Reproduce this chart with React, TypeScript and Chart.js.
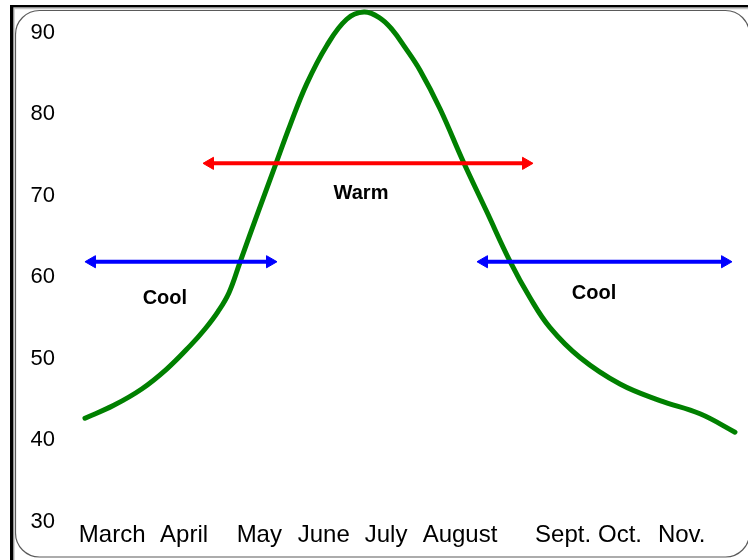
import React, { useEffect, useRef } from "react";
import { Chart, registerables } from "chart.js";

Chart.register(...registerables);

// x axis is a 0–100 season scale; month labels sit at these positions
const monthLabels = ["March", "April", "May", "June", "July", "August", "Sept.", "Oct.", "Nov."];
const monthPos = [7.4, 18.0, 29.1, 38.6, 47.8, 58.7, 73.9, 82.3, 91.4];

const yTicks = [30, 40, 50, 60, 70, 80, 90];

// temperature curve
const curveX = [3.39, 7.57, 11.76, 15.44, 18.88, 21.09, 23.01, 24.63, 26.25, 28.95, 31.56, 33.63, 36.09, 39.04, 41.99, 44.54, 46.9, 48.67, 50.59, 52.8, 55.75, 59.19, 62.64, 66.08, 69.03, 71.98, 76.4, 82.3, 88.2, 94.1, 99.26];
const curveY = [42.72, 44.27, 46.3, 48.74, 51.59, 53.66, 55.79, 58.11, 61.83, 68.05, 73.94, 78.62, 83.7, 88.38, 91.62, 92.5, 91.77, 90.37, 88.17, 85.37, 80.65, 74.15, 68.05, 61.95, 57.48, 53.82, 50.16, 46.91, 44.88, 43.26, 41.01];

// arrows (x start, x end, y level)
const coolLeftX = [4.42, 30.68];
const coolLeftY = 61.9;
const warmX = [21.83, 68.44];
const warmY = 73.96;
const coolRightX = [62.24, 97.79];
const coolRightY = 61.9;

// text labels
const labelText = ["Cool", "Warm", "Cool"];
const labelX = [15.17, 44.1, 78.47];
const labelY = [57.44, 70.24, 58.05];

const FONT = "'Liberation Sans', Arial, Helvetica, sans-serif";

export default function App() {
  const ref = useRef<HTMLCanvasElement | null>(null);

  useEffect(() => {
    document.body.style.margin = "0";
    const canvas = ref.current;
    if (!canvas) return;

    const framePlugin = {
      id: "frame",
      beforeDraw(chart: any) {
        const ctx = chart.ctx;
        ctx.save();
        ctx.fillStyle = "#ffffff";
        ctx.fillRect(0, 0, chart.width, chart.height);
        // rounded inner frame
        ctx.strokeStyle = "#5a5a5a";
        ctx.lineWidth = 1.2;
        ctx.beginPath();
        (ctx as any).roundRect(15.5, 10.5, 734, 546.5, 24);
        ctx.stroke();
        ctx.strokeStyle = "#c8c8c8";
        ctx.lineWidth = 1.5;
        ctx.beginPath();
        ctx.moveTo(14, 8);
        ctx.lineTo(14, 560);
        ctx.moveTo(13, 8.5);
        ctx.lineTo(748, 8.5);
        ctx.stroke();
        // black outer lines
        ctx.fillStyle = "#000000";
        ctx.fillRect(10, 5, 3.3, 555);
        ctx.fillRect(10, 5, 738, 2.4);
        ctx.restore();
      },
    };

    const textPlugin = {
      id: "zoneLabels",
      afterDatasetsDraw(chart: any) {
        const ctx = chart.ctx;
        const xs = chart.scales.x;
        const ys = chart.scales.y;
        ctx.save();
        ctx.fillStyle = "#000000";
        ctx.font = `bold 20px ${FONT}`;
        ctx.textAlign = "center";
        ctx.textBaseline = "middle";
        labelText.forEach((t, i) => {
          ctx.fillText(t, xs.getPixelForValue(labelX[i]), ys.getPixelForValue(labelY[i]));
        });
        ctx.restore();
      },
    };

    const arrow = (xsArr: number[], y: number, color: string) => ({
      data: xsArr.map((x) => ({ x, y })),
      borderColor: color,
      backgroundColor: color,
      borderWidth: 4,
      pointStyle: "triangle",
      pointRadius: 7,
      pointRotation: [-90, 90],
      pointBackgroundColor: color,
      pointBorderColor: color,
      pointBorderWidth: 1,
      tension: 0,
      order: 0,
      clip: false,
    });

    const chart = new Chart(canvas, {
      type: "line",
      data: {
        datasets: [
          {
            data: curveX.map((x, i) => ({ x, y: curveY[i] })),
            borderColor: "#008000",
            borderWidth: 5,
            borderCapStyle: "round",
            borderJoinStyle: "round",
            pointRadius: 0,
            tension: 0.4,
            capBezierPoints: false,
            order: 1,
            clip: false,
          } as any,
          arrow(coolLeftX, coolLeftY, "#0000ff") as any,
          arrow(warmX, warmY, "#ff0000") as any,
          arrow(coolRightX, coolRightY, "#0000ff") as any,
        ],
      },
      options: {
        animation: false,
        responsive: false,
        devicePixelRatio: 1,
        layout: { padding: { top: 5, right: 8, bottom: 0, left: 0 } },
        plugins: { legend: { display: false }, tooltip: { enabled: false } },
        events: [],
        scales: {
          x: {
            type: "linear",
            min: 0,
            max: 100,
            grid: { display: false, drawTicks: false },
            border: { display: false },
            afterBuildTicks: (s: any) => {
              s.ticks = monthPos.map((v) => ({ value: v }));
            },
            afterFit: (s: any) => {
              s.height = 38;
              s.paddingLeft = 0;
              s.paddingRight = 0;
            },
            ticks: {
              autoSkip: false,
              maxRotation: 0,
              padding: 1,
              color: "#000000",
              font: { family: FONT, size: 24, lineHeight: 1 },
              callback: (_v: any, i: number) => monthLabels[i],
            },
          },
          y: {
            type: "linear",
            min: 30,
            max: 93,
            grid: { display: false, drawTicks: false },
            border: { display: false },
            afterBuildTicks: (s: any) => {
              s.ticks = yTicks.map((v) => ({ value: v }));
            },
            afterFit: (s: any) => {
              s.width = 62;
              s.paddingTop = 0;
              s.paddingBottom = 0;
            },
            ticks: {
              padding: 7,
              color: "#000000",
              font: { family: FONT, size: 22 },
              callback: (v: any) => String(v),
            },
          },
        },
      } as any,
      plugins: [framePlugin, textPlugin],
    });

    return () => chart.destroy();
  }, []);

  return (
    <canvas
      ref={ref}
      width={748}
      height={560}
      style={{ display: "block", width: 748, height: 560 }}
    />
  );
}
